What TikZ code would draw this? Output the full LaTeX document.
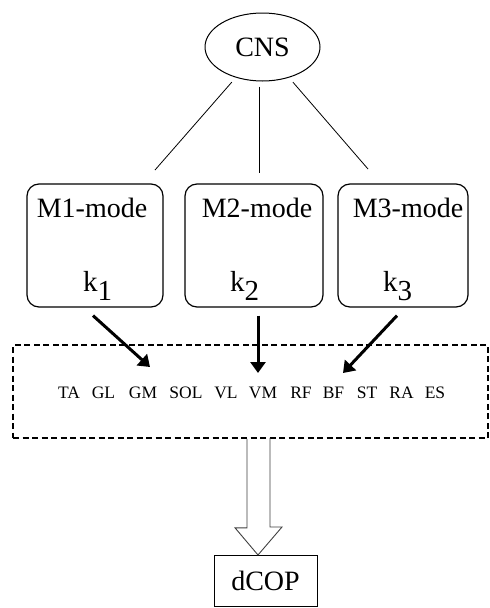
\documentclass[tikz,border=0pt]{standalone}
\usepackage{fontspec}
\setmainfont{Liberation Serif}
\usetikzlibrary{arrows.meta,shapes.geometric,calc}
\begin{document}
\begin{tikzpicture}[x=1pt,y=-1pt,
  big/.style={font=\fontsize{28}{30}\selectfont},
  klbl/.style={font=\fontsize{29}{31}\selectfont,inner sep=0pt,anchor=base west},
  mlbl/.style={big,inner sep=0pt,anchor=base},
  msc/.style={font=\fontsize{17.5}{19}\selectfont,inner sep=0pt,anchor=base},
  modebox/.style={draw,line width=1.2pt,rounded corners=12pt,minimum height=123pt,inner sep=0pt},
  thinline/.style={line width=0.8pt},
  fat/.style={line width=3pt,-{Triangle[length=11pt,width=15pt]}},
  hollow/.style={line width=0.9pt,black!75,line join=miter}
]
\fill[white] (0,0) rectangle (490,608);
\useasboundingbox (0,0) rectangle (490,608);

% CNS
\node[draw,ellipse,line width=1pt,inner sep=0pt,minimum width=115pt,minimum height=68pt,big] (cns) at (262.5,47) {CNS};

% mode boxes
\node[modebox,minimum width=136pt] (m1) at (95,245.5) {};
\node[modebox,minimum width=138pt] (m2) at (254,245.5) {};
\node[modebox,minimum width=130pt] (m3) at (403,245.5) {};

\node[mlbl] (m1t) at (92,217) {M1-mode};
\node[mlbl] (m2t) at (257,217) {M2-mode};
\node[mlbl] (m3t) at (408,217) {M3-mode};

\node[klbl] (k1) at (83,291) {k\raisebox{-9pt}{1}};
\node[klbl] (k2) at (230,291) {k\raisebox{-9pt}{2}};
\node[klbl] (k3) at (383,291) {k\raisebox{-9pt}{3}};

% lines from CNS
\coordinate (t1) at (155,170);
\coordinate (t2) at (259.5,173);
\coordinate (t3) at (368,169);
\draw[thinline,shorten <=6pt] (cns) -- (t1);
\draw[thinline,shorten <=5pt] (t2 |- cns.south) -- (t2);
\draw[thinline,shorten <=6pt] (cns) -- (t3);

% dashed box
\node[draw,dashed,line width=1.6pt,dash pattern=on 6pt off 3.5pt,minimum width=475pt,minimum height=93pt,inner sep=0pt] (dbox) at (250.5,391.5) {};

% muscles
\node[msc] (ta) at (69,398) {TA};
\node[msc] (gl) at (103.5,398) {GL};
\node[msc] (gm) at (143,398) {GM};
\node[msc] (sol) at (186,398) {SOL};
\node[msc] (vl) at (226,398) {VL};
\node[msc] (vm) at (263,398) {VM};
\node[msc] (rf) at (301,398) {RF};
\node[msc] (bf) at (333.5,398) {BF};
\node[msc] (st) at (367,398) {ST};
\node[msc] (ra) at (401.5,398) {RA};
\node[msc] (es) at (435,398) {ES};

% thick arrows
\coordinate (tip1) at (150,367);
\coordinate (tip2) at (258,373);
\coordinate (tip3) at (343,373);
\draw[fat] ([shift={(-2,8)}]m1.south) -- (tip1);
\draw[fat] ([shift={(4,8)}]m2.south) -- (tip2);
\draw[fat] ([shift={(-6,8)}]m3.south) -- (tip3);

% dCOP
\node[draw,line width=1pt,minimum width=103pt,minimum height=51pt,inner sep=0pt,big] (dcop) at (265.5,580.5) {dCOP};

% hollow arrow
\coordinate (htip) at (258,555);
\draw[hollow] ($(htip |- dbox.south)+(-11,0)$) -- ++(0,89) -- ++(-12,0) -- (htip) -- ++(24,-28) -- ++(-12,0) -- ++(0,-89);
\end{tikzpicture}
\end{document}
